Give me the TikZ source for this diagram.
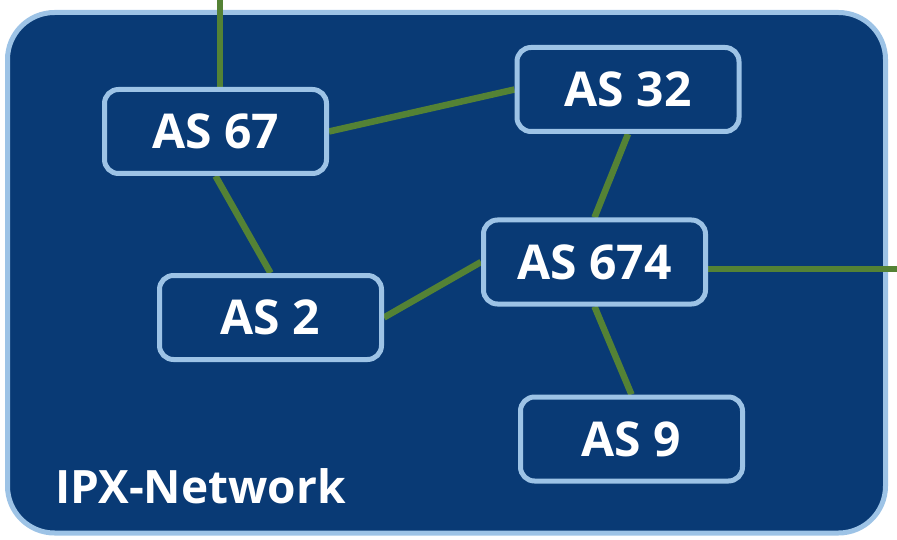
\documentclass[tikz,border=0pt]{standalone}
\usepackage{fontspec}
\setmainfont{Open Sans}
\pgfdeclarelayer{back}
\pgfsetlayers{back,main}
\begin{document}
\definecolor{netblue}{RGB}{9,58,117}
\definecolor{edgeblue}{RGB}{157,195,230}
\definecolor{linkgreen}{RGB}{84,130,53}
\begin{tikzpicture}[x=1pt,y=-1pt,
  labelfont/.style={text=white, font=\fontsize{48}{52}\selectfont\bfseries},
  asbox/.style={draw=edgeblue, fill=netblue, line width=5pt, rounded corners=14pt,
    minimum width=222pt, minimum height=84pt, inner sep=0pt, labelfont},
  link/.style={draw=linkgreen, line width=6.5pt}]
  \useasboundingbox (0,0) rectangle (897,540);
  % autonomous systems
  \node[asbox] (as67)  at (215.5,131.5) {AS 67};
  \node[asbox] (as32)  at (628,89.5)    {AS 32};
  \node[asbox] (as674) at (594.5,262)   {AS 674};
  \node[asbox] (as2)   at (270.5,317.5) {AS 2};
  \node[asbox] (as9)   at (631.5,439)   {AS 9};
  \node[anchor=base west, inner sep=0pt, text=white,
    font=\fontsize{46}{50}\selectfont\bfseries] (title) at (55,503) {IPX-Network};
  % external ends
  \coordinate (up) at (220,0);
  \coordinate (out) at (897,269);
  \begin{pgfonlayer}{back}
    % network area
    \draw[draw=edgeblue, fill=netblue, line width=5pt, rounded corners=47pt]
      (7.5,12.5) rectangle (885.5,533);
    % links
    \path[link] (up) -- (up |- as67.north);
    \path[link] (as67.east) -- (as32.west);
    \path[link] (as67.south) -- (as2.north);
    \path[link] (as2.east) -- (as674.west);
    \path[link] (as32.south) -- (as674.north);
    \path[link] (as674.south) -- (as9.north);
    \path[link] (as674.east |- out) -- (out);
  \end{pgfonlayer}
\end{tikzpicture}
\end{document}
